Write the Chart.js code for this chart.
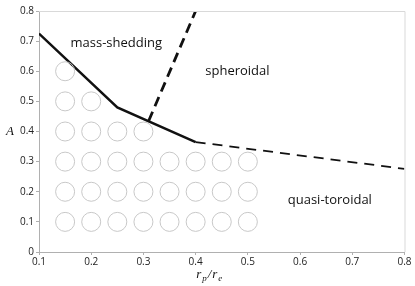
<!DOCTYPE html>
<html>
<head>
<meta charset="utf-8">
<script src="https://cdn.jsdelivr.net/npm/chart.js@4.4.0/dist/chart.umd.min.js"></script>
<style>
    html, body { margin: 0; padding: 0; background: #fff; }
    #wrap { width: 415px; height: 286px; }
</style>
</head>
<body>
<div id="wrap"><canvas id="chart" width="415" height="286"></canvas></div>
<script>
// axis ticks
const xTicks = [0.1, 0.2, 0.3, 0.4, 0.5, 0.6, 0.7, 0.8];
const yTicks = [0, 0.1, 0.2, 0.3, 0.4, 0.5, 0.6, 0.7, 0.8];

// sample models (circles): rp/re values per A row
const circleRows = [0.1, 0.2, 0.3, 0.4, 0.5, 0.6];
const circleCols = [
    [0.15, 0.2, 0.25, 0.3, 0.35, 0.4, 0.45, 0.5],
    [0.15, 0.2, 0.25, 0.3, 0.35, 0.4, 0.45, 0.5],
    [0.15, 0.2, 0.25, 0.3, 0.35, 0.4, 0.45, 0.5],
    [0.15, 0.2, 0.25, 0.3],
    [0.15, 0.2],
    [0.15]
];

// mass-shedding limit (solid)
const sheddingX = [0.1, 0.25, 0.4];
const sheddingY = [0.725, 0.48, 0.365];

// spheroidal / quasi-toroidal boundary (dashed, thin)
const toroidX = [0.4, 0.8];
const toroidY = [0.365, 0.276];

// mass-shedding / spheroidal boundary (dashed, thick)
const spheroidX = [0.31, 0.4];
const spheroidY = [0.435, 0.8];

// region labels
const regionLabels = [
    { text: "mass-shedding", x: 0.248, y: 0.694 },
    { text: "spheroidal", x: 0.48, y: 0.6 },
    { text: "quasi-toroidal", x: 0.657, y: 0.172 }
];

function pts(xs, ys) {
    return xs.map((x, i) => ({ x: x, y: ys[i] }));
}

const circles = [];
circleRows.forEach((a, i) => {
    circleCols[i].forEach(r => circles.push({ x: r, y: a }));
});

const textPlugin = {
    id: "texts",
    afterDraw(chart) {
        const ctx = chart.ctx;
        const xs = chart.scales.x, ys = chart.scales.y;
        const area = chart.chartArea;
        ctx.save();

        // top and right frame
        ctx.strokeStyle = "#d9d9d9";
        ctx.lineWidth = 1;
        ctx.beginPath();
        ctx.moveTo(area.left, area.top + 0.5);
        ctx.lineTo(area.right + 0.5, area.top + 0.5);
        ctx.lineTo(area.right + 0.5, area.bottom);
        ctx.stroke();

        ctx.fillStyle = "#111";
        ctx.font = "13px 'Open Sans'";
        ctx.textAlign = "center";
        ctx.textBaseline = "middle";
        regionLabels.forEach(l => {
            ctx.fillText(l.text, xs.getPixelForValue(l.x), ys.getPixelForValue(l.y));
        });

        // y title "A"
        ctx.font = "italic 13px 'Liberation Serif'";
        ctx.fillText("A", 10, ys.getPixelForValue(0.4));

        // x title r_p/r_e
        const cx = xs.getPixelForValue(0.427);
        const by = 278;
        ctx.textAlign = "left";
        ctx.textBaseline = "alphabetic";
        const big = "italic 13px 'Liberation Serif'";
        const small = "italic 9px 'Liberation Serif'";
        const parts = [
            { t: "r", f: big, dy: 0 },
            { t: "p", f: small, dy: 3 },
            { t: "/", f: big, dy: 0 },
            { t: "r", f: big, dy: 0 },
            { t: "e", f: small, dy: 3 }
        ];
        let w = 0;
        parts.forEach(p => { ctx.font = p.f; w += ctx.measureText(p.t).width + 1; });
        let px = cx - w / 2;
        parts.forEach(p => {
            ctx.font = p.f;
            ctx.fillText(p.t, px, by + p.dy);
            px += ctx.measureText(p.t).width + 1;
        });
        ctx.restore();
    }
};

new Chart(document.getElementById("chart"), {
    type: "scatter",
    data: {
        datasets: [
            {
                data: circles,
                pointRadius: 9.5,
                pointHoverRadius: 9.5,
                borderColor: "#c8c8c8",
                backgroundColor: "rgba(0,0,0,0)",
                borderWidth: 1
            },
            {
                data: pts(sheddingX, sheddingY),
                showLine: true,
                borderColor: "#111",
                borderWidth: 2.5,
                pointRadius: 0
            },
            {
                data: pts(toroidX, toroidY),
                showLine: true,
                borderColor: "#111",
                borderWidth: 1.8,
                borderDash: [10, 7],
                pointRadius: 0
            },
            {
                data: pts(spheroidX, spheroidY),
                showLine: true,
                borderColor: "#111",
                borderWidth: 2.8,
                borderDash: [10, 6],
                pointRadius: 0
            }
        ]
    },
    options: {
        responsive: false,
        animation: false,
        layout: { padding: { left: 0, right: 9, top: 11, bottom: 0 } },
        plugins: {
            legend: { display: false },
            tooltip: { enabled: false }
        },
        scales: {
            x: {
                type: "linear",
                min: 0.1,
                max: 0.8,
                afterFit: s => { s.height = 34; },
                afterBuildTicks: s => { s.ticks = xTicks.map(v => ({ value: v })); },
                ticks: {
                    color: "#222",
                    font: { family: "Open Sans", size: 10 },
                    padding: 1,
                    callback: v => String(Math.round(v * 10) / 10)
                },
                grid: {
                    drawOnChartArea: false,
                    drawTicks: true,
                    tickLength: 3,
                    color: "#b0b0b0"
                },
                border: { color: "#b0b0b0" }
            },
            y: {
                min: 0,
                max: 0.8,
                afterFit: s => { s.width = 39; },
                afterBuildTicks: s => { s.ticks = yTicks.map(v => ({ value: v })); },
                ticks: {
                    color: "#222",
                    font: { family: "Open Sans", size: 10 },
                    padding: 2,
                    callback: v => String(Math.round(v * 10) / 10)
                },
                grid: {
                    drawOnChartArea: false,
                    drawTicks: true,
                    tickLength: 3,
                    color: "#b0b0b0"
                },
                border: { color: "#b0b0b0" }
            }
        }
    },
    plugins: [textPlugin]
});
</script>
</body>
</html>
